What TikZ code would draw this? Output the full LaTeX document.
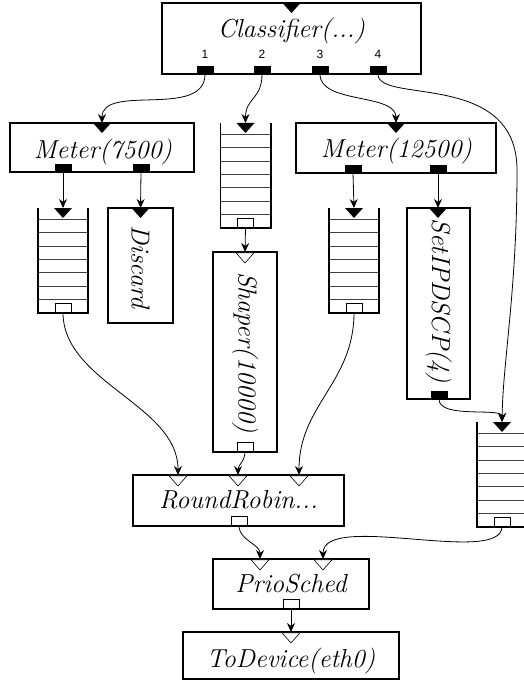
\documentclass[tikz,border=0pt]{standalone}
\usepackage{fontspec}
\newfontfamily\clkportfont{Liberation Sans}
\usetikzlibrary{arrows.meta}
\newcommand\clkpushin[3]{\coordinate (#1) at (#2,#3);
  \fill (#2-9,#3) -- (#2+9,#3) -- (#2,#3+10) -- cycle;}
\newcommand\clkpullin[3]{\coordinate (#1) at (#2,#3);
  \filldraw[fill=white,line width=0.6pt] (#2-9,#3+0.8) -- (#2+9,#3+0.8) -- (#2,#3+11) -- cycle;}
\newcommand\clkqueue[3]{%
  \node[inner sep=0pt,minimum width=50pt,minimum height=105pt] (#1) at (#2,#3+52.5) {};
  \foreach \k in {0,...,6}{\draw[qline] (#2-25,#3+11.3+13.33*\k) -- (#2+25,#3+11.3+13.33*\k);}
  \draw[qwall] (#1.north west) -- (#1.south west) -- (#1.south east) -- (#1.north east);
  \clkpushin{#1in}{#2}{#3}
  \node[pullout] (#1out) at (#2,#3+105-5.3) {};
}
\begin{document}
\begin{tikzpicture}[x=1pt,y=-1pt,
  elem/.style={draw,line width=1.6pt,fill=white,inner sep=0pt},
  conn/.style={line width=0.8pt,-{Stealth[length=9pt,width=8pt]}},
  pushout/.style={fill=black,inner sep=0pt,minimum width=17pt,minimum height=8pt},
  pullout/.style={draw,fill=white,line width=0.6pt,inner sep=0pt,minimum width=16pt,minimum height=9pt},
  qwall/.style={line width=1.6pt},
  qline/.style={line width=0.8pt,black!75},
  lbl/.style={font=\clkportfont\fontsize{12}{14}\selectfont,inner sep=0pt,anchor=base},
  txt/.style={font=\fontsize{26}{30}\selectfont\itshape,inner sep=0pt},
  htxt/.style={txt,anchor=base},
  vtxt/.style={txt,rotate=-90}
]
\useasboundingbox (0,0) rectangle (524,682);

% Classifier
\node[elem,minimum width=259pt,minimum height=71pt] (cls) at (291.5,38.5) {};
\node[htxt] (clst) at (291.5,38) {Classifier(...)};
\clkpushin{clsin}{291.5}{3}
\node[pushout] (c1) at (205,70) {};
\node[pushout] (c2) at (262,70) {};
\node[pushout] (c3) at (320,70) {};
\node[pushout] (c4) at (378,70) {};
\node[lbl] (l1) at (205,59) {1};
\node[lbl] (l2) at (262,59) {2};
\node[lbl] (l3) at (320,59) {3};
\node[lbl] (l4) at (378,59) {4};

% Meter(7500)
\node[elem,minimum width=184pt,minimum height=49pt] (m1) at (102,147.5) {};
\node[htxt] (m1t) at (103,158) {Meter(7500)};
\clkpushin{m1in}{102}{123}
\node[pushout] (m1a) at (63,168) {};
\node[pushout] (m1b) at (141,168) {};

% Meter(12500)
\node[elem,minimum width=200pt,minimum height=50pt] (m2) at (396,148) {};
\node[htxt] (m2t) at (396.5,157.5) {Meter(12500)};
\clkpushin{m2in}{396}{123}
\node[pushout] (m2a) at (353,169) {};
\node[pushout] (m2b) at (438,169) {};

% Discard
\node[elem,minimum width=65pt,minimum height=115pt] (dis) at (140.5,265.5) {};
\node[vtxt] (dist) at (140.5,267) {Discard};
\clkpushin{disin}{140.5}{208}

% Shaper
\node[elem,minimum width=64pt,minimum height=200pt] (sh) at (245,352) {};
\node[vtxt] (sht) at (245,352.5) {Shaper(10000)};
\clkpullin{shin}{245}{252}
\node[pullout] (shout) at (245,446.7) {};

% SetIPDSCP
\node[elem,minimum width=63pt,minimum height=191pt] (set) at (438.5,303.5) {};
\node[vtxt] (sett) at (438.5,301) {SetIPDSCP(4)};
\clkpushin{setin}{438}{208}
\node[pushout] (setout) at (439,395) {};

% Queues
\clkqueue{qa}{63}{208}
\clkqueue{qb}{245.5}{123}
\clkqueue{qc}{354}{208}
\clkqueue{qd}{502}{422}

% RoundRobin
\node[elem,minimum width=211pt,minimum height=51pt] (rr) at (238.5,500.5) {};
\node[htxt] (rrt) at (238.5,508) {RoundRobin...};
\clkpullin{rra}{178}{475}
\clkpullin{rrb}{238}{475}
\clkpullin{rrc}{299}{475}
\node[pullout] (rrout) at (239,520.7) {};

% PrioSched
\node[elem,minimum width=156pt,minimum height=50pt] (ps) at (291,584) {};
\node[htxt] (pst) at (291,592) {PrioSched};
\clkpullin{psa}{260}{559}
\clkpullin{psb}{323}{559}
\node[pullout] (psout) at (291,603.7) {};

% ToDevice
\node[elem,minimum width=216pt,minimum height=47pt] (td) at (291,655.5) {};
\node[htxt] (tdt) at (291,667) {ToDevice(eth0)};
\clkpullin{tdin}{291}{632}

% connectors
\draw[conn] (c1.south) .. controls +(0,45) and +(0,-40) .. (m1in);
\draw[conn] (c2.south) .. controls +(0,25) and +(0,-25) .. (qbin);
\draw[conn] (c3.south) .. controls +(0,30) and +(0,-30) .. (m2in);
\draw[conn] (c4.south) .. controls +(0,30) and (517,70) .. (517,170)
  .. controls (517,290) and (503,360) .. (qdin);
\draw[conn] (m1a.south) -- (qain);
\draw[conn] (m1b.south) -- (disin);
\draw[conn] (m2a.south) -- (qcin);
\draw[conn] (m2b.south) -- (setin);
\draw[conn] (qbout.south) -- (shin);
\draw[conn] (qaout.south) .. controls +(0,70) and +(0,-70) .. (rra);
\draw[conn] (shout.south) .. controls +(0,10) and +(0,-10) .. (rrb);
\draw[conn] (qcout.south) .. controls +(0,70) and +(0,-70) .. (rrc);
\draw[conn] (setout.south) .. controls +(0,20) and +(0,-15) .. (qdin);
\draw[conn] (rrout.south) .. controls +(0,15) and +(0,-15) .. (psa);
\draw[conn] (qdout.south) .. controls +(0,40) and +(0,-48) .. (psb);
\draw[conn] (psout.south) -- (tdin);
\end{tikzpicture}
\end{document}
